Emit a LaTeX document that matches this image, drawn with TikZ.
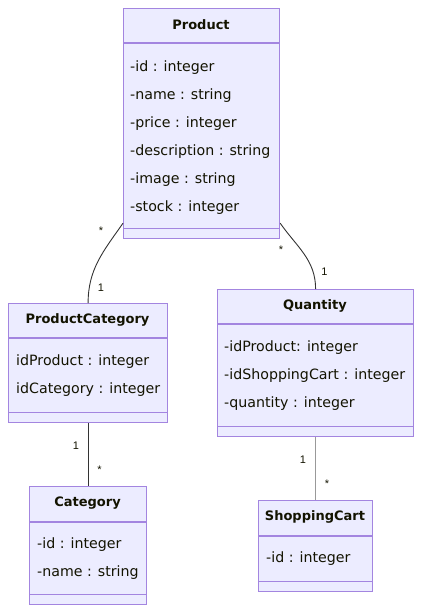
\documentclass[tikz,border=0pt]{standalone}
\usepackage{fontspec}
\setmainfont{DejaVu Sans}
\newfontfamily\multfont{Liberation Sans}
\usepackage{tikz}
\usetikzlibrary{positioning}

\definecolor{classfill}{HTML}{ECECFF}
\definecolor{classline}{HTML}{9370DB}
\definecolor{edgeline}{HTML}{333333}
\definecolor{textcol}{HTML}{131300}

\tikzset{
  classbox/.style={draw=classline!85, fill=classfill, line width=1.2pt,
    anchor=north west, inner sep=0pt},
  divider/.style={draw=classline!85, line width=1.2pt},
  classname/.style={font=\fontsize{13}{15}\selectfont\bfseries,
    text=textcol, inner sep=0pt},
  attr/.style={font=\fontsize{14.2}{17}\selectfont, text=textcol,
    anchor=west, inner sep=0pt, yshift=-1.5pt},
  mult/.style={font=\multfont\fontsize{11}{13}\selectfont, text=textcol,
    anchor=base, inner sep=0pt},
  assoc/.style={draw=edgeline, line width=0.9pt},
}

\begin{document}
\begin{tikzpicture}[x=1pt,y=1pt]
    \useasboundingbox (0,0) rectangle (421,-613);

    % Product
    \node[classbox, minimum width=156pt, minimum height=230pt] (product) at (123,-8) {};
    \draw[divider] ([yshift=-35pt]product.north west) -- ([yshift=-35pt]product.north east);
    \draw[divider] ([yshift=11pt]product.south west) -- ([yshift=11pt]product.south east);
    \node[classname] (product-title) at (201,-25) {Product};
    \node[attr] (product-id) at (130,-66) {-id : integer};
    \node[attr] (product-name) at (130,-94) {-name : string};
    \node[attr] (product-price) at (130,-122) {-price : integer};
    \node[attr] (product-desc) at (130,-150) {-description : string};
    \node[attr] (product-image) at (130,-178) {-image : string};
    \node[attr] (product-stock) at (130,-206) {-stock : integer};

    % ProductCategory
    \node[classbox, minimum width=159pt, minimum height=119pt] (prodcat) at (8,-303) {};
    \draw[divider] ([yshift=-35pt]prodcat.north west) -- ([yshift=-35pt]prodcat.north east);
    \draw[divider] ([yshift=11pt]prodcat.south west) -- ([yshift=11pt]prodcat.south east);
    \node[classname] (prodcat-title) at (87.5,-320) {ProductCategory};
    \node[attr] (prodcat-prod) at (16,-360) {idProduct : integer};
    \node[attr] (prodcat-cat) at (16,-388) {idCategory : integer};

    % Quantity
    \node[classbox, minimum width=196pt, minimum height=147pt] (quantity) at (217,-289) {};
    \draw[divider] ([yshift=-35pt]quantity.north west) -- ([yshift=-35pt]quantity.north east);
    \draw[divider] ([yshift=11pt]quantity.south west) -- ([yshift=11pt]quantity.south east);
    \node[classname] (quantity-title) at (315,-306) {Quantity};
    \node[attr] (quantity-prod) at (224,-346) {-idProduct: integer};
    \node[attr] (quantity-cart) at (224,-374) {-idShoppingCart : integer};
    \node[attr] (quantity-qty) at (224,-402) {-quantity : integer};

    % Category
    \node[classbox, minimum width=117pt, minimum height=118pt] (category) at (29,-486) {};
    \draw[divider] ([yshift=-36pt]category.north west) -- ([yshift=-36pt]category.north east);
    \draw[divider] ([yshift=11pt]category.south west) -- ([yshift=11pt]category.south east);
    \node[classname] (category-title) at (87.5,-503) {Category};
    \node[attr] (category-id) at (37,-543) {-id : integer};
    \node[attr] (category-name) at (37,-571) {-name : string};

    % ShoppingCart
    \node[classbox, minimum width=114pt, minimum height=91pt] (cart) at (258,-500) {};
    \draw[divider] ([yshift=-36pt]cart.north west) -- ([yshift=-36pt]cart.north east);
    \draw[divider] ([yshift=11pt]cart.south west) -- ([yshift=11pt]cart.south east);
    \node[classname] (cart-title) at (315,-517) {ShoppingCart};
    \node[attr] (cart-id) at (266,-557) {-id : integer};

    % associations
    \draw[assoc] ([yshift=16pt]product.south west)
      to[out=-125,in=90] (prodcat.north);
    \draw[assoc] ([yshift=16pt]product.south east)
      to[out=-55,in=90] (quantity.north);
    \draw[assoc] (prodcat.south) -- (category.north);
    \draw[assoc, draw=gray!80, line width=1.5pt] (quantity.south) -- (cart.north);

    % multiplicities
    \node[mult] (m-prod-pc) at (101,-234) {*};
    \node[mult] (m-pc-prod) at (101,-291) {1};
    \node[mult] (m-prod-q) at (281,-253) {*};
    \node[mult] (m-q-prod) at (324.5,-275) {1};
    \node[mult] (m-pc-cat) at (76,-449) {1};
    \node[mult] (m-cat-pc) at (99.5,-473) {*};
    \node[mult] (m-q-cart) at (303,-463) {1};
    \node[mult] (m-cart-q) at (327,-487) {*};
\end{tikzpicture}
\end{document}
